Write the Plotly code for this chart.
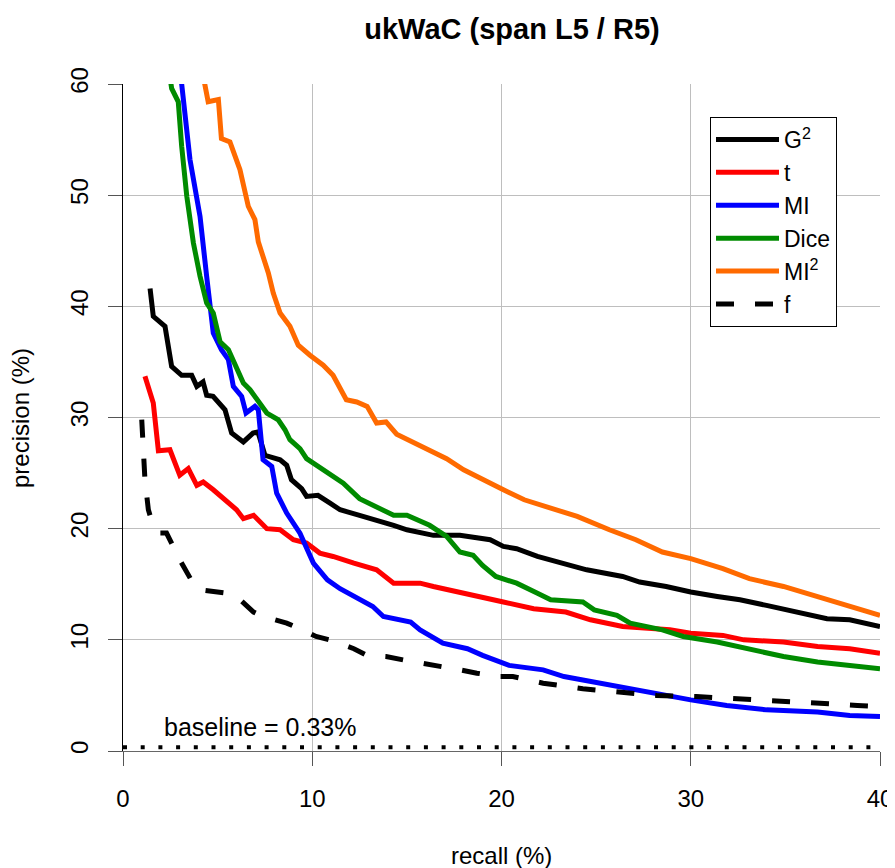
import plotly.graph_objects as go

# ---- data (recall %, precision %) ----
g2_x = [1.43,1.6,2.22,2.57,3.1,3.63,3.9,4.23,4.42,4.76,5.39,5.74,6.36,6.87,7.13,7.5,8.3,8.65,8.9,9.44,9.7,10.3,10.94,11.47,12.5,13.4,14.3,15.0,16.4,17.8,19.4,20.1,20.8,21.9,23.3,24.5,26.4,27.3,28.7,30.0,31.4,32.6,34.0,35.6,37.2,38.4,40.0]
g2_y = [41.6,39.1,38.2,34.6,33.8,33.8,32.8,33.2,32.0,31.9,30.7,28.6,27.8,28.6,28.7,26.6,26.2,25.7,24.4,23.6,22.9,23.0,22.3,21.7,21.2,20.8,20.3,19.9,19.4,19.4,19.0,18.4,18.2,17.5,16.9,16.3,15.7,15.2,14.8,14.3,13.9,13.6,13.1,12.5,11.9,11.8,11.2]

t_x = [1.16,1.6,1.87,2.48,3.0,3.45,3.9,4.24,4.77,5.48,6.0,6.36,6.9,7.6,8.3,9.0,9.7,10.4,11.1,12.2,13.4,14.3,15.7,16.4,17.8,19.0,20.1,21.7,23.4,24.7,26.4,28.9,30.0,31.7,32.8,34.9,36.7,38.4,40.0]
t_y = [33.7,31.3,27.0,27.1,24.8,25.4,23.9,24.2,23.5,22.4,21.7,20.9,21.2,20.0,19.9,19.0,18.7,17.8,17.5,16.9,16.3,15.1,15.1,14.8,14.3,13.9,13.4,12.8,12.5,11.8,11.2,10.9,10.6,10.4,10.0,9.8,9.4,9.2,8.8]

mi_x = [2.95,3.1,3.54,4.07,4.42,4.77,5.2,5.57,5.83,6.27,6.5,6.97,7.15,7.4,7.86,8.12,8.65,9.35,10.06,10.8,11.47,12.2,13.2,13.76,15.2,15.7,16.9,18.2,19.0,20.4,22.2,23.3,26.1,27.8,30.0,31.9,34.0,36.7,38.4,40.0]
mi_y = [62.0,60.0,53.2,48.1,42.7,37.6,36.1,35.2,32.8,31.9,30.4,31.0,30.7,26.2,25.6,23.2,21.4,19.6,16.9,15.4,14.6,13.9,13.0,12.1,11.6,10.9,9.7,9.2,8.6,7.7,7.3,6.7,5.8,5.2,4.6,4.1,3.7,3.5,3.2,3.1]

dice_x = [2.45,2.57,2.92,3.1,3.37,3.72,4.07,4.42,4.77,5.13,5.57,6.0,6.36,6.71,7.24,7.6,8.2,8.56,8.82,9.35,9.7,10.06,10.76,11.64,12.5,13.6,14.3,15.0,16.2,17.1,17.8,18.5,19.0,19.7,20.8,21.9,22.6,24.3,24.9,26.1,26.8,28.5,29.6,31.4,33.1,34.9,36.7,38.4,40.0]
dice_y = [61.0,59.6,58.4,54.4,49.9,45.7,42.7,40.3,39.4,36.8,36.1,34.6,33.1,32.5,31.3,30.4,29.8,28.9,28.0,27.2,26.3,25.9,25.1,24.1,22.7,21.8,21.2,21.2,20.3,19.3,17.9,17.6,16.7,15.7,15.1,14.2,13.6,13.4,12.7,12.2,11.5,10.9,10.3,9.8,9.2,8.5,8.0,7.7,7.4]

mi2_x = [4.15,4.5,5.04,5.2,5.65,6.18,6.62,6.97,7.15,7.68,7.94,8.3,8.82,9.26,9.88,10.58,11.1,11.8,12.35,12.9,13.4,13.9,14.46,15.3,16.0,17.1,18.0,19.0,20.1,21.2,22.6,24.0,25.7,27.1,28.5,30.0,31.7,33.1,34.9,36.7,38.4,40.0]
mi2_y = [61.5,58.4,58.6,55.1,54.8,52.3,49.0,47.8,45.8,43.0,41.2,39.4,38.2,36.5,35.6,34.7,33.8,31.6,31.4,31.0,29.5,29.6,28.5,27.8,27.1,26.3,25.3,24.4,23.5,22.6,21.8,21.1,19.9,19.0,17.9,17.3,16.4,15.5,14.8,13.9,13.0,12.2]

f_x = [0.99,1.16,1.34,1.5,1.96,2.3,3.0,3.7,4.07,5.48,6.0,6.9,7.4,8.65,9.35,10.2,10.9,12.2,12.9,13.9,14.8,15.9,16.75,17.8,18.7,19.9,20.6,22.2,24.3,26.1,28.2,30.3,32.4,34.5,36.7,38.8,40.0]
f_y = [29.8,24.4,21.7,20.8,19.6,19.6,17.2,15.1,14.5,14.2,13.9,12.5,12.1,11.5,11.0,10.3,10.0,9.2,8.6,8.5,8.2,7.9,7.6,7.3,7.0,6.7,6.7,6.1,5.6,5.3,5.0,4.9,4.7,4.4,4.3,4.1,4.0]

baseline_x = [0, 40]
baseline_y = [0.33, 0.33]
baseline_label = "baseline = 0.33%"

x_ticks = [0, 10, 20, 30, 40]
y_ticks = [0, 10, 20, 30, 40, 50, 60]

FONT = "Liberation Sans, Arial, Helvetica, sans-serif"

series = [
    ("G<sup>2</sup>", g2_x, g2_y, "#000000", "solid"),
    ("t", t_x, t_y, "#FF0000", "solid"),
    ("MI", mi_x, mi_y, "#0000FF", "solid"),
    ("Dice", dice_x, dice_y, "#008B00", "solid"),
    ("MI<sup>2</sup>", mi2_x, mi2_y, "#FF6A00", "solid"),
    ("f", f_x, f_y, "#000000", "18px,21px"),
]

fig = go.Figure()
fig.add_trace(go.Scatter(x=baseline_x, y=baseline_y, mode="lines",
                         line=dict(color="#000000", width=4, dash="4px,13.7px"),
                         showlegend=False, hoverinfo="skip"))
for name, xs, ys, col, dash in series:
    fig.add_trace(go.Scatter(x=xs, y=ys, mode="lines", name=name,
                             line=dict(color=col, width=5, dash=dash)))

fig.add_annotation(x=2.05, y=2.2, xref="x", yref="y", text=baseline_label,
                   showarrow=False, xanchor="left", yanchor="middle",
                   font=dict(family=FONT, size=25, color="#000000"))

# page body has an 8px margin: figure coordinates = screen coordinates - 8
OFF = 8
W, H = 895 - OFF, 868 - OFF
L, T = 123 - OFF, 84 - OFF
R = W - (880 - OFF)
B = H - (751 - OFF)
pw, ph = W - L - R, H - T - B

def px_x(sx):
    return ((sx - OFF) - L) / pw

def px_y(sy):
    return (H - B - (sy - OFF)) / ph

fig.add_annotation(x=0.5, y=px_y(855), xref="paper", yref="paper",
                   text="recall (%)", showarrow=False, xanchor="center", yanchor="middle",
                   font=dict(family=FONT, size=24, color="#000000"))
fig.add_annotation(x=px_x(20), y=px_y(418), xref="paper", yref="paper",
                   text="precision (%)", showarrow=False, textangle=-90,
                   xanchor="center", yanchor="middle",
                   font=dict(family=FONT, size=24, color="#000000"))

fig.update_layout(
    template="none",
    width=W, height=H, autosize=False,
    margin=dict(l=L, r=R, t=T, b=B, pad=0, autoexpand=False),
    paper_bgcolor="white", plot_bgcolor="white",
    font=dict(family=FONT, size=24, color="#000000"),
    title=dict(text="<b>ukWaC (span L5 / R5)</b>", x=px_x(512), xref="paper",
               xanchor="center", y=1 - (29 - OFF) / H, yref="container", yanchor="middle",
               font=dict(family=FONT, size=29, color="#000000")),
    xaxis=dict(range=[0, 40], tickvals=x_ticks, ticks="outside", ticklen=14,
               tickcolor="#555555", tickwidth=1, showgrid=True, gridcolor="#BEBEBE",
               gridwidth=1, zeroline=False, showline=True, linecolor="#666666",
               linewidth=1, ticklabelstandoff=12, automargin=False,
               tickfont=dict(family=FONT, size=24, color="#000000")),
    yaxis=dict(range=[0, 60], tickvals=y_ticks, ticks="outside", ticklen=14,
               tickcolor="#555555", tickwidth=1, showgrid=True, gridcolor="#BEBEBE",
               gridwidth=1, zeroline=False, showline=True, linecolor="#000000",
               linewidth=1, tickangle=-90, ticklabelstandoff=10, automargin=False,
               tickfont=dict(family=FONT, size=24, color="#000000")),
    legend=dict(x=px_x(710), y=px_y(117), xanchor="left", yanchor="top",
                bgcolor="white", bordercolor="#000000", borderwidth=1,
                font=dict(family=FONT, size=23, color="#000000"),
                itemwidth=63, tracegroupgap=0),
    hovermode=False,
)

fig.write_html("out.html")
